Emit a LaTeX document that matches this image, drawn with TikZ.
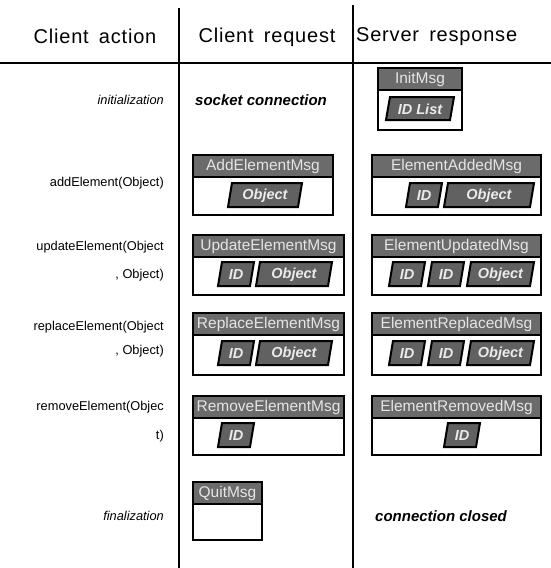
\documentclass[tikz,border=0pt]{standalone}
\usepackage{fontspec}
\setmainfont{Liberation Sans}
\newfontfamily\hdrfont[LetterSpace=4,WordSpace=1.6]{Liberation Sans}
\begin{document}
\begin{tikzpicture}[x=1pt,y=-1pt,
  rule/.style={line width=1.3pt},
  msgbox/.style={draw, line width=2.2pt},
  hdrfill/.style={fill=black!58},
  hdrtext/.style={text=black!10, font=\fontsize{15.5}{16}\selectfont, inner sep=0pt},
  fld/.style={draw, line width=2pt, fill=black!62, line join=miter},
  fldtext/.style={text=black!8, font=\fontsize{14.5}{15}\selectfont\itshape\bfseries, inner sep=0pt},
  colhead/.style={font=\hdrfont\fontsize{20}{21}\selectfont, inner sep=0pt},
  act/.style={font=\fontsize{12.8}{14}\selectfont, anchor=east, inner sep=0pt},
  acti/.style={font=\fontsize{12.8}{14}\selectfont\itshape, anchor=east, inner sep=0pt},
  note/.style={font=\fontsize{15}{16}\selectfont\itshape\bfseries, anchor=west, inner sep=0pt}]
\useasboundingbox (0,0) rectangle (551,568);
\fill[white] (0,0) rectangle (551,568);

% message box macro: x1,x2,y1,y2,title,name
\newcommand\msgbox[6]{%
  \fill[hdrfill] (#1,#3) rectangle (#2,#3+22);
  \draw[line width=1.8pt] (#1,#3+22) -- (#2,#3+22);
  \node[hdrtext] (#6) at ({(#1+#2)/2},#3+11.5) {#5};
  \draw[msgbox] (#1,#3) rectangle (#2,#4);
}
% field macro: x1,x2,ytop,ybot,text,name
\newcommand\fieldbox[6]{%
  \draw[fld] (#1+4,#3) -- (#2+4,#3) -- (#2,#4) -- (#1,#4) -- cycle;
  \node[fldtext] (#6) at ({(#1+#2)/2+2},{(#3+#4)/2+0.5}) {#5};
}

% grid lines
\coordinate (h1) at (0,63);
\coordinate (h2) at (551,63);
\draw[rule] (h1) -- (h2);
\coordinate (v1t) at (179,8);
\coordinate (v1b) at (179,568);
\coordinate (v2t) at (353,5);
\coordinate (v2b) at (353,568);
\draw[rule] (v1t) -- (v1b);
\draw[line width=1.8pt] (v2t) -- (v2b);

% headers
\node[colhead] (hA) at (95,36) {Client action};
\node[colhead] (hB) at (267,37) {Client request};
\node[colhead, anchor=west] (hC) at (356,37) {Server response};

% client actions
\node[acti] (a1) at (164,100) {initialization};
\node[act] (a2) at (164,183) {addElement(Object)};
\node[act] (a3) at (164,247) {updateElement(Object};
\node[act] (a3b) at (164,275) {, Object)};
\node[act] (a4) at (164,327) {replaceElement(Object};
\node[act] (a4b) at (164,351) {, Object)};
\node[act] (a5) at (164,407) {removeElement(Objec};
\node[act] (a5b) at (164,436) {t)};
\node[acti] (a6) at (164,516) {finalization};

% client requests
\node[note] (r1) at (195,100) {socket connection};
\msgbox{193}{333}{155}{215}{AddElementMsg}{r2}
\fieldbox{228}{298}{183}{207}{Object}{r2o}
\msgbox{193}{344}{235}{295}{UpdateElementMsg}{r3}
\fieldbox{218}{250}{262}{286}{ID}{r3i}
\fieldbox{256}{328}{262}{286}{Object}{r3o}
\msgbox{193}{344}{313}{375}{ReplaceElementMsg}{r4}
\fieldbox{218}{250}{341}{365}{ID}{r4i}
\fieldbox{256}{328}{341}{365}{Object}{r4o}
\msgbox{193}{344}{396}{455}{RemoveElementMsg}{r5}
\fieldbox{218}{250}{423}{447}{ID}{r5i}
\msgbox{193}{262}{482}{540}{QuitMsg}{r6}

% server responses
\msgbox{378}{462}{68}{130}{InitMsg}{s1}
\fieldbox{386}{450}{97}{120}{ID List}{s1l}
\msgbox{372}{541}{155}{215}{ElementAddedMsg}{s2}
\fieldbox{406}{438}{183}{207}{ID}{s2i}
\fieldbox{444}{530}{183}{207}{Object}{s2o}
\msgbox{372}{541}{235}{295}{ElementUpdatedMsg}{s3}
\fieldbox{389}{421}{262}{286}{ID}{s3i}
\fieldbox{428}{460}{262}{286}{ID}{s3j}
\fieldbox{467}{530}{262}{286}{Object}{s3o}
\msgbox{372}{541}{313}{375}{ElementReplacedMsg}{s4}
\fieldbox{389}{421}{341}{365}{ID}{s4i}
\fieldbox{428}{460}{341}{365}{ID}{s4j}
\fieldbox{467}{530}{341}{365}{Object}{s4o}
\msgbox{372}{541}{396}{455}{ElementRemovedMsg}{s5}
\fieldbox{444}{476}{423}{447}{ID}{s5i}
\node[note] (s6) at (375,516) {connection closed};
\end{tikzpicture}
\end{document}
